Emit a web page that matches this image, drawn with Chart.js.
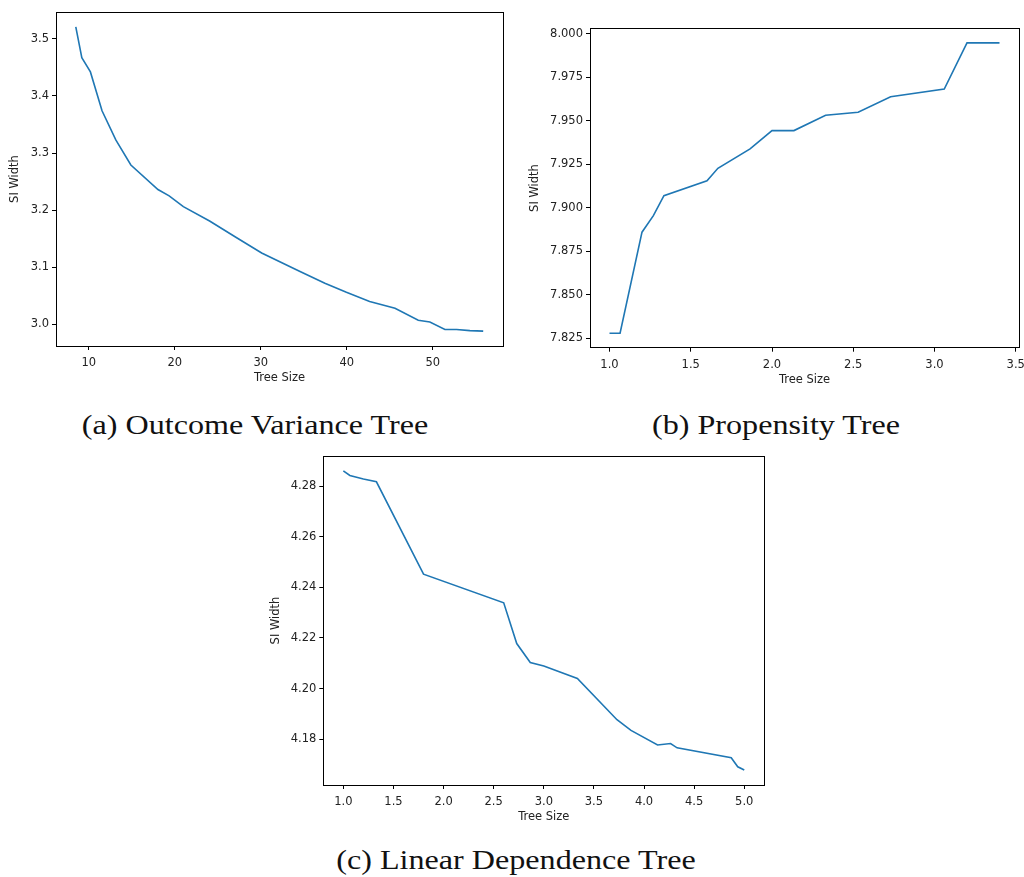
<!DOCTYPE html>
<html>
<head>
<meta charset="utf-8">
<script src="https://cdn.jsdelivr.net/npm/chart.js@4.4.1/dist/chart.umd.min.js"></script>
<style>
    html, body { margin: 0; padding: 0; background: #fff; overflow: hidden; }
    body { width: 1024px; height: 877px; position: relative; }
    .plot { position: absolute; }
    .caption {
        position: absolute;
        font-family: "Liberation Serif", serif;
        font-size: 27px;
        line-height: 27px;
        color: #111;
        text-align: center;
        white-space: nowrap;
        transform: scaleX(1.19);
        transform-origin: center;
    }
</style>
</head>
<body>

<div class="plot" style="left:0px; top:0px; width:515px; height:395px;"><canvas id="chart_a"></canvas></div>
<div class="plot" style="left:520px; top:10px; width:520px; height:390px;"><canvas id="chart_b"></canvas></div>
<div class="plot" style="left:260px; top:445px; width:515px; height:385px;"><canvas id="chart_c"></canvas></div>

<div class="caption" style="left:55px; top:412px; width:400px;">(a) Outcome Variance Tree</div>
<div class="caption" style="left:576px; top:412px; width:400px;">(b) Propensity Tree</div>
<div class="caption" style="left:316px; top:847px; width:400px;">(c) Linear Dependence Tree</div>

<script>
// (a) Outcome Variance Tree
const treeSizeA = [8.5, 9.2, 10.2, 11.55, 13.15, 14.9, 18.05, 19.35, 21.0, 24.05, 27.15, 30.1, 34.5, 37.45, 39.95, 42.65, 45.6, 48.3, 49.65, 51.4, 52.75, 54.3, 55.85];
const siWidthA = [3.521, 3.467, 3.442, 3.374, 3.323, 3.279, 3.236, 3.225, 3.206, 3.181, 3.152, 3.125, 3.093, 3.072, 3.056, 3.040, 3.028, 3.007, 3.004, 2.991, 2.991, 2.989, 2.988];
const xTicksA = [10, 20, 30, 40, 50];
const yTicksA = [3.0, 3.1, 3.2, 3.3, 3.4, 3.5];

// (b) Propensity Tree
const treeSizeB = [1.0, 1.065, 1.2, 1.27, 1.335, 1.6, 1.667, 1.865, 2.0, 2.135, 2.33, 2.53, 2.73, 3.06, 3.2, 3.4];
const siWidthB = [7.8279, 7.8279, 7.886, 7.8955, 7.907, 7.9156, 7.9227, 7.9339, 7.9444, 7.9444, 7.9532, 7.9549, 7.9639, 7.9683, 7.9948, 7.9948];
const xTicksB = [1.0, 1.5, 2.0, 2.5, 3.0, 3.5];
const yTicksB = [7.825, 7.850, 7.875, 7.900, 7.925, 7.950, 7.975, 8.000];

// (c) Linear Dependence Tree
const treeSizeC = [1.0, 1.065, 1.2, 1.33, 1.8, 2.6, 2.73, 2.865, 3.0, 3.335, 3.73, 3.87, 4.135, 4.265, 4.33, 4.87, 4.935, 5.0];
const siWidthC = [4.2860, 4.2842, 4.2828, 4.2817, 4.2452, 4.2339, 4.2178, 4.2103, 4.2089, 4.2040, 4.1877, 4.1835, 4.1777, 4.1783, 4.1766, 4.1727, 4.1691, 4.1678];
const xTicksC = [1.0, 1.5, 2.0, 2.5, 3.0, 3.5, 4.0, 4.5, 5.0];
const yTicksC = [4.18, 4.20, 4.22, 4.24, 4.26, 4.28];

const font = { family: 'DejaVu Sans', size: 11.5 };
const textColor = '#222';

// black box around the plot area, like matplotlib spines
const frame = {
    id: 'frame',
    afterDatasetsDraw(chart) {
        const a = chart.chartArea;
        const c = chart.ctx;
        c.save();
        c.strokeStyle = '#000';
        c.lineWidth = 1;
        c.strokeRect(Math.round(a.left) + 0.5, Math.round(a.top) + 0.5, Math.round(a.right - a.left), Math.round(a.bottom - a.top));
        c.restore();
    }
};

function makeChart(id, xs, ys, xTicks, yTicks, xDigits, yDigits, range, box) {
    const ctx = document.getElementById(id).getContext('2d');
    return new Chart(ctx, {
        type: 'line',
        data: {
            datasets: [{
                data: xs.map((x, i) => ({ x: x, y: ys[i] })),
                borderColor: '#1f77b4',
                borderWidth: 1.6,
                pointRadius: 0,
                tension: 0,
                fill: false
            }]
        },
        options: {
            responsive: true,
            maintainAspectRatio: false,
            animation: false,
            events: [],
            layout: { padding: box.padding },
            plugins: { legend: { display: false }, tooltip: { enabled: false } },
            scales: {
                x: {
                    type: 'linear',
                    min: range[0], max: range[1],
                    afterBuildTicks: s => { s.ticks = xTicks.map(v => ({ value: v })); },
                    afterFit: s => { s.height = box.xHeight; },
                    ticks: {
                        autoSkip: false, maxRotation: 0, padding: 6,
                        color: textColor, font: font,
                        callback: v => xDigits ? Number(v).toFixed(xDigits) : String(v)
                    },
                    grid: { display: true, drawOnChartArea: false, drawTicks: true, tickLength: 4, color: '#000', lineWidth: 1 },
                    border: { display: false },
                    title: { display: true, text: 'Tree Size', color: textColor, font: font, padding: 0 }
                },
                y: {
                    type: 'linear',
                    min: range[2], max: range[3],
                    afterBuildTicks: s => { s.ticks = yTicks.map(v => ({ value: v })); },
                    afterFit: s => { s.width = box.yWidth; },
                    ticks: {
                        autoSkip: false, padding: 3,
                        color: textColor, font: font,
                        callback: v => Number(v).toFixed(yDigits)
                    },
                    grid: { display: true, drawOnChartArea: false, drawTicks: true, tickLength: 4, color: '#000', lineWidth: 1 },
                    border: { display: false },
                    title: { display: true, text: 'SI Width', color: textColor, font: font, padding: 0 }
                }
            }
        },
        plugins: [frame]
    });
}

makeChart('chart_a', treeSizeA, siWidthA, xTicksA, yTicksA, 0, 1,
    [6.2, 58.15, 2.962, 3.547],
    { padding: { left: 8.1, top: 12, right: 12, bottom: 10.1 }, yWidth: 47.9, xHeight: 38.9 });

makeChart('chart_b', treeSizeB, siWidthB, xTicksB, yTicksB, 1, 3,
    [0.88, 3.52, 7.8196, 8.0032],
    { padding: { left: 8.1, top: 18.3, right: 21, bottom: 13.1 }, yWidth: 61.9, xHeight: 39.2 });

makeChart('chart_c', treeSizeC, siWidthC, xTicksC, yTicksC, 1, 2,
    [0.8, 5.2, 4.1619, 4.2919],
    { padding: { left: 9.1, top: 11, right: 10.7, bottom: 6.4 }, yWidth: 54.2, xHeight: 38.6 });
</script>
</body>
</html>
